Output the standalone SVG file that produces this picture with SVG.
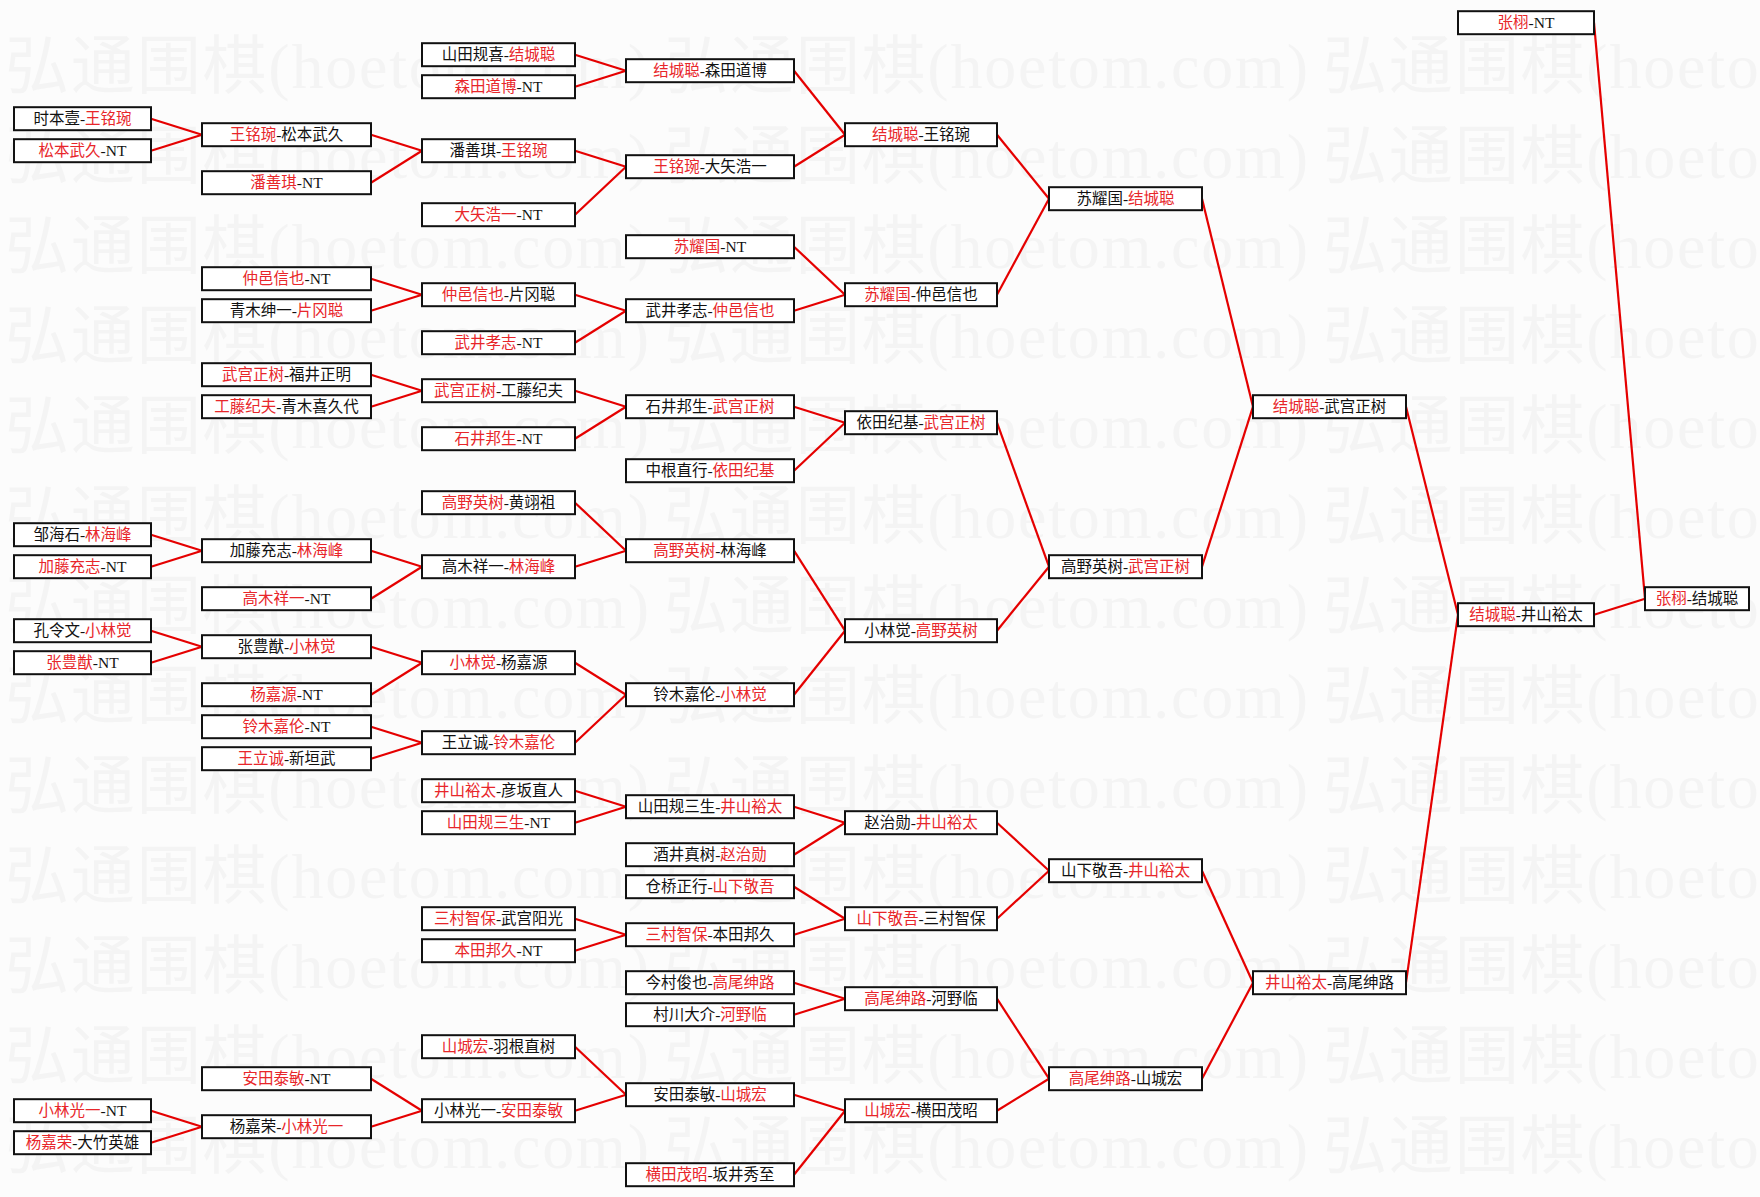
<svg xmlns="http://www.w3.org/2000/svg" width="1760" height="1197" viewBox="0 0 1760 1197">
<style>
.bg{fill:#fcfcfc}
.wm{font-family:"Liberation Serif","Noto Sans CJK SC",serif;font-size:64px;fill:#f4f4f4}
.node rect{fill:#ffffff;stroke:#111111;stroke-width:2}
.node text{font-family:"Liberation Serif","Noto Sans CJK SC",serif;font-size:15.5px;fill:#111111;text-anchor:middle}
.r{fill:#e8262a}
#connectors line{stroke:#e50000;stroke-width:2.2;fill:none}
</style>
<rect class="bg" x="0" y="0" width="1760" height="1197"/>
<g id="watermark">
<text class="wm" x="5" y="88" textLength="644" lengthAdjust="spacing">弘通围棋(hoetom.com)</text>
<text class="wm" x="664" y="88" textLength="644" lengthAdjust="spacing">弘通围棋(hoetom.com)</text>
<text class="wm" x="1323" y="88" textLength="644" lengthAdjust="spacing">弘通围棋(hoetom.com)</text>
<text class="wm" x="5" y="178" textLength="644" lengthAdjust="spacing">弘通围棋(hoetom.com)</text>
<text class="wm" x="664" y="178" textLength="644" lengthAdjust="spacing">弘通围棋(hoetom.com)</text>
<text class="wm" x="1323" y="178" textLength="644" lengthAdjust="spacing">弘通围棋(hoetom.com)</text>
<text class="wm" x="5" y="268" textLength="644" lengthAdjust="spacing">弘通围棋(hoetom.com)</text>
<text class="wm" x="664" y="268" textLength="644" lengthAdjust="spacing">弘通围棋(hoetom.com)</text>
<text class="wm" x="1323" y="268" textLength="644" lengthAdjust="spacing">弘通围棋(hoetom.com)</text>
<text class="wm" x="5" y="358" textLength="644" lengthAdjust="spacing">弘通围棋(hoetom.com)</text>
<text class="wm" x="664" y="358" textLength="644" lengthAdjust="spacing">弘通围棋(hoetom.com)</text>
<text class="wm" x="1323" y="358" textLength="644" lengthAdjust="spacing">弘通围棋(hoetom.com)</text>
<text class="wm" x="5" y="448" textLength="644" lengthAdjust="spacing">弘通围棋(hoetom.com)</text>
<text class="wm" x="664" y="448" textLength="644" lengthAdjust="spacing">弘通围棋(hoetom.com)</text>
<text class="wm" x="1323" y="448" textLength="644" lengthAdjust="spacing">弘通围棋(hoetom.com)</text>
<text class="wm" x="5" y="538" textLength="644" lengthAdjust="spacing">弘通围棋(hoetom.com)</text>
<text class="wm" x="664" y="538" textLength="644" lengthAdjust="spacing">弘通围棋(hoetom.com)</text>
<text class="wm" x="1323" y="538" textLength="644" lengthAdjust="spacing">弘通围棋(hoetom.com)</text>
<text class="wm" x="5" y="628" textLength="644" lengthAdjust="spacing">弘通围棋(hoetom.com)</text>
<text class="wm" x="664" y="628" textLength="644" lengthAdjust="spacing">弘通围棋(hoetom.com)</text>
<text class="wm" x="1323" y="628" textLength="644" lengthAdjust="spacing">弘通围棋(hoetom.com)</text>
<text class="wm" x="5" y="718" textLength="644" lengthAdjust="spacing">弘通围棋(hoetom.com)</text>
<text class="wm" x="664" y="718" textLength="644" lengthAdjust="spacing">弘通围棋(hoetom.com)</text>
<text class="wm" x="1323" y="718" textLength="644" lengthAdjust="spacing">弘通围棋(hoetom.com)</text>
<text class="wm" x="5" y="808" textLength="644" lengthAdjust="spacing">弘通围棋(hoetom.com)</text>
<text class="wm" x="664" y="808" textLength="644" lengthAdjust="spacing">弘通围棋(hoetom.com)</text>
<text class="wm" x="1323" y="808" textLength="644" lengthAdjust="spacing">弘通围棋(hoetom.com)</text>
<text class="wm" x="5" y="898" textLength="644" lengthAdjust="spacing">弘通围棋(hoetom.com)</text>
<text class="wm" x="664" y="898" textLength="644" lengthAdjust="spacing">弘通围棋(hoetom.com)</text>
<text class="wm" x="1323" y="898" textLength="644" lengthAdjust="spacing">弘通围棋(hoetom.com)</text>
<text class="wm" x="5" y="988" textLength="644" lengthAdjust="spacing">弘通围棋(hoetom.com)</text>
<text class="wm" x="664" y="988" textLength="644" lengthAdjust="spacing">弘通围棋(hoetom.com)</text>
<text class="wm" x="1323" y="988" textLength="644" lengthAdjust="spacing">弘通围棋(hoetom.com)</text>
<text class="wm" x="5" y="1078" textLength="644" lengthAdjust="spacing">弘通围棋(hoetom.com)</text>
<text class="wm" x="664" y="1078" textLength="644" lengthAdjust="spacing">弘通围棋(hoetom.com)</text>
<text class="wm" x="1323" y="1078" textLength="644" lengthAdjust="spacing">弘通围棋(hoetom.com)</text>
<text class="wm" x="5" y="1168" textLength="644" lengthAdjust="spacing">弘通围棋(hoetom.com)</text>
<text class="wm" x="664" y="1168" textLength="644" lengthAdjust="spacing">弘通围棋(hoetom.com)</text>
<text class="wm" x="1323" y="1168" textLength="644" lengthAdjust="spacing">弘通围棋(hoetom.com)</text>
</g>
<g id="connectors">
<line x1="151" y1="118.7" x2="202" y2="134.7"/><line x1="151" y1="150.7" x2="202" y2="134.7"/>
<line x1="151" y1="534.7" x2="202" y2="550.7"/><line x1="151" y1="566.7" x2="202" y2="550.7"/>
<line x1="151" y1="630.7" x2="202" y2="646.7"/><line x1="151" y1="662.7" x2="202" y2="646.7"/>
<line x1="151" y1="1110.7" x2="202" y2="1126.7"/><line x1="151" y1="1142.7" x2="202" y2="1126.7"/>
<line x1="371" y1="134.7" x2="422" y2="150.7"/><line x1="371" y1="182.7" x2="422" y2="150.7"/>
<line x1="371" y1="278.7" x2="422" y2="294.7"/><line x1="371" y1="310.7" x2="422" y2="294.7"/>
<line x1="371" y1="374.7" x2="422" y2="390.7"/><line x1="371" y1="406.7" x2="422" y2="390.7"/>
<line x1="371" y1="550.7" x2="422" y2="566.7"/><line x1="371" y1="598.7" x2="422" y2="566.7"/>
<line x1="371" y1="646.7" x2="422" y2="662.7"/><line x1="371" y1="694.7" x2="422" y2="662.7"/>
<line x1="371" y1="726.7" x2="422" y2="742.7"/><line x1="371" y1="758.7" x2="422" y2="742.7"/>
<line x1="371" y1="1078.7" x2="422" y2="1110.7"/><line x1="371" y1="1126.7" x2="422" y2="1110.7"/>
<line x1="575" y1="54.7" x2="626" y2="70.7"/><line x1="575" y1="86.7" x2="626" y2="70.7"/>
<line x1="575" y1="150.7" x2="626" y2="166.7"/><line x1="575" y1="214.7" x2="626" y2="166.7"/>
<line x1="575" y1="294.7" x2="626" y2="310.7"/><line x1="575" y1="342.7" x2="626" y2="310.7"/>
<line x1="575" y1="390.7" x2="626" y2="406.7"/><line x1="575" y1="438.7" x2="626" y2="406.7"/>
<line x1="575" y1="502.7" x2="626" y2="550.7"/><line x1="575" y1="566.7" x2="626" y2="550.7"/>
<line x1="575" y1="662.7" x2="626" y2="694.7"/><line x1="575" y1="742.7" x2="626" y2="694.7"/>
<line x1="575" y1="790.7" x2="626" y2="806.7"/><line x1="575" y1="822.7" x2="626" y2="806.7"/>
<line x1="575" y1="918.7" x2="626" y2="934.7"/><line x1="575" y1="950.7" x2="626" y2="934.7"/>
<line x1="575" y1="1046.7" x2="626" y2="1094.7"/><line x1="575" y1="1110.7" x2="626" y2="1094.7"/>
<line x1="794" y1="70.7" x2="845" y2="134.7"/><line x1="794" y1="166.7" x2="845" y2="134.7"/>
<line x1="794" y1="246.7" x2="845" y2="294.7"/><line x1="794" y1="310.7" x2="845" y2="294.7"/>
<line x1="794" y1="406.7" x2="845" y2="422.7"/><line x1="794" y1="470.7" x2="845" y2="422.7"/>
<line x1="794" y1="550.7" x2="845" y2="630.7"/><line x1="794" y1="694.7" x2="845" y2="630.7"/>
<line x1="794" y1="806.7" x2="845" y2="822.7"/><line x1="794" y1="854.7" x2="845" y2="822.7"/>
<line x1="794" y1="886.7" x2="845" y2="918.7"/><line x1="794" y1="934.7" x2="845" y2="918.7"/>
<line x1="794" y1="982.7" x2="845" y2="998.7"/><line x1="794" y1="1014.7" x2="845" y2="998.7"/>
<line x1="794" y1="1094.7" x2="845" y2="1110.7"/><line x1="794" y1="1174.7" x2="845" y2="1110.7"/>
<line x1="997" y1="134.7" x2="1049" y2="198.7"/><line x1="997" y1="294.7" x2="1049" y2="198.7"/>
<line x1="997" y1="422.7" x2="1049" y2="566.7"/><line x1="997" y1="630.7" x2="1049" y2="566.7"/>
<line x1="997" y1="822.7" x2="1049" y2="870.7"/><line x1="997" y1="918.7" x2="1049" y2="870.7"/>
<line x1="997" y1="998.7" x2="1049" y2="1078.7"/><line x1="997" y1="1110.7" x2="1049" y2="1078.7"/>
<line x1="1202" y1="198.7" x2="1253" y2="406.7"/><line x1="1202" y1="566.7" x2="1253" y2="406.7"/>
<line x1="1202" y1="870.7" x2="1253" y2="982.7"/><line x1="1202" y1="1078.7" x2="1253" y2="982.7"/>
<line x1="1406" y1="406.7" x2="1458" y2="614.7"/><line x1="1406" y1="982.7" x2="1458" y2="614.7"/>
<line x1="1594" y1="22.7" x2="1645" y2="598.7"/><line x1="1594" y1="614.7" x2="1645" y2="598.7"/>
</g>
<g id="n0a" class="node" transform="translate(14,118.7)"><rect x="0" y="-11.5" width="137" height="23"/><text x="68.5" y="5.5">时本壹-<tspan class="r">王铭琬</tspan></text></g>
<g id="n0b" class="node" transform="translate(14,150.7)"><rect x="0" y="-11.5" width="137" height="23"/><text x="68.5" y="5.5"><tspan class="r">松本武久</tspan>-NT</text></g>
<g id="n0c" class="node" transform="translate(14,534.7)"><rect x="0" y="-11.5" width="137" height="23"/><text x="68.5" y="5.5">邹海石-<tspan class="r">林海峰</tspan></text></g>
<g id="n0d" class="node" transform="translate(14,566.7)"><rect x="0" y="-11.5" width="137" height="23"/><text x="68.5" y="5.5"><tspan class="r">加藤充志</tspan>-NT</text></g>
<g id="n0e" class="node" transform="translate(14,630.7)"><rect x="0" y="-11.5" width="137" height="23"/><text x="68.5" y="5.5">孔令文-<tspan class="r">小林觉</tspan></text></g>
<g id="n0f" class="node" transform="translate(14,662.7)"><rect x="0" y="-11.5" width="137" height="23"/><text x="68.5" y="5.5"><tspan class="r">张豊猷</tspan>-NT</text></g>
<g id="n0g" class="node" transform="translate(14,1110.7)"><rect x="0" y="-11.5" width="137" height="23"/><text x="68.5" y="5.5"><tspan class="r">小林光一</tspan>-NT</text></g>
<g id="n0h" class="node" transform="translate(14,1142.7)"><rect x="0" y="-11.5" width="137" height="23"/><text x="68.5" y="5.5"><tspan class="r">杨嘉荣</tspan>-大竹英雄</text></g>
<g id="n1a" class="node" transform="translate(202,134.7)"><rect x="0" y="-11.5" width="169" height="23"/><text x="84.5" y="5.5"><tspan class="r">王铭琬</tspan>-松本武久</text></g>
<g id="n1b" class="node" transform="translate(202,182.7)"><rect x="0" y="-11.5" width="169" height="23"/><text x="84.5" y="5.5"><tspan class="r">潘善琪</tspan>-NT</text></g>
<g id="n1c" class="node" transform="translate(202,278.7)"><rect x="0" y="-11.5" width="169" height="23"/><text x="84.5" y="5.5"><tspan class="r">仲邑信也</tspan>-NT</text></g>
<g id="n1d" class="node" transform="translate(202,310.7)"><rect x="0" y="-11.5" width="169" height="23"/><text x="84.5" y="5.5">青木绅一-<tspan class="r">片冈聪</tspan></text></g>
<g id="n1e" class="node" transform="translate(202,374.7)"><rect x="0" y="-11.5" width="169" height="23"/><text x="84.5" y="5.5"><tspan class="r">武宫正树</tspan>-福井正明</text></g>
<g id="n1f" class="node" transform="translate(202,406.7)"><rect x="0" y="-11.5" width="169" height="23"/><text x="84.5" y="5.5"><tspan class="r">工藤纪夫</tspan>-青木喜久代</text></g>
<g id="n1g" class="node" transform="translate(202,550.7)"><rect x="0" y="-11.5" width="169" height="23"/><text x="84.5" y="5.5">加藤充志-<tspan class="r">林海峰</tspan></text></g>
<g id="n1h" class="node" transform="translate(202,598.7)"><rect x="0" y="-11.5" width="169" height="23"/><text x="84.5" y="5.5"><tspan class="r">高木祥一</tspan>-NT</text></g>
<g id="n1i" class="node" transform="translate(202,646.7)"><rect x="0" y="-11.5" width="169" height="23"/><text x="84.5" y="5.5">张豊猷-<tspan class="r">小林觉</tspan></text></g>
<g id="n1j" class="node" transform="translate(202,694.7)"><rect x="0" y="-11.5" width="169" height="23"/><text x="84.5" y="5.5"><tspan class="r">杨嘉源</tspan>-NT</text></g>
<g id="n1k" class="node" transform="translate(202,726.7)"><rect x="0" y="-11.5" width="169" height="23"/><text x="84.5" y="5.5"><tspan class="r">铃木嘉伦</tspan>-NT</text></g>
<g id="n1l" class="node" transform="translate(202,758.7)"><rect x="0" y="-11.5" width="169" height="23"/><text x="84.5" y="5.5"><tspan class="r">王立诚</tspan>-新垣武</text></g>
<g id="n1m" class="node" transform="translate(202,1078.7)"><rect x="0" y="-11.5" width="169" height="23"/><text x="84.5" y="5.5"><tspan class="r">安田泰敏</tspan>-NT</text></g>
<g id="n1n" class="node" transform="translate(202,1126.7)"><rect x="0" y="-11.5" width="169" height="23"/><text x="84.5" y="5.5">杨嘉荣-<tspan class="r">小林光一</tspan></text></g>
<g id="n2a" class="node" transform="translate(422,54.7)"><rect x="0" y="-11.5" width="153" height="23"/><text x="76.5" y="5.5">山田规喜-<tspan class="r">结城聪</tspan></text></g>
<g id="n2b" class="node" transform="translate(422,86.7)"><rect x="0" y="-11.5" width="153" height="23"/><text x="76.5" y="5.5"><tspan class="r">森田道博</tspan>-NT</text></g>
<g id="n2c" class="node" transform="translate(422,150.7)"><rect x="0" y="-11.5" width="153" height="23"/><text x="76.5" y="5.5">潘善琪-<tspan class="r">王铭琬</tspan></text></g>
<g id="n2d" class="node" transform="translate(422,214.7)"><rect x="0" y="-11.5" width="153" height="23"/><text x="76.5" y="5.5"><tspan class="r">大矢浩一</tspan>-NT</text></g>
<g id="n2e" class="node" transform="translate(422,294.7)"><rect x="0" y="-11.5" width="153" height="23"/><text x="76.5" y="5.5"><tspan class="r">仲邑信也</tspan>-片冈聪</text></g>
<g id="n2f" class="node" transform="translate(422,342.7)"><rect x="0" y="-11.5" width="153" height="23"/><text x="76.5" y="5.5"><tspan class="r">武井孝志</tspan>-NT</text></g>
<g id="n2g" class="node" transform="translate(422,390.7)"><rect x="0" y="-11.5" width="153" height="23"/><text x="76.5" y="5.5"><tspan class="r">武宫正树</tspan>-工藤纪夫</text></g>
<g id="n2h" class="node" transform="translate(422,438.7)"><rect x="0" y="-11.5" width="153" height="23"/><text x="76.5" y="5.5"><tspan class="r">石井邦生</tspan>-NT</text></g>
<g id="n2i" class="node" transform="translate(422,502.7)"><rect x="0" y="-11.5" width="153" height="23"/><text x="76.5" y="5.5"><tspan class="r">高野英树</tspan>-黄翊祖</text></g>
<g id="n2j" class="node" transform="translate(422,566.7)"><rect x="0" y="-11.5" width="153" height="23"/><text x="76.5" y="5.5">高木祥一-<tspan class="r">林海峰</tspan></text></g>
<g id="n2k" class="node" transform="translate(422,662.7)"><rect x="0" y="-11.5" width="153" height="23"/><text x="76.5" y="5.5"><tspan class="r">小林觉</tspan>-杨嘉源</text></g>
<g id="n2l" class="node" transform="translate(422,742.7)"><rect x="0" y="-11.5" width="153" height="23"/><text x="76.5" y="5.5">王立诚-<tspan class="r">铃木嘉伦</tspan></text></g>
<g id="n2m" class="node" transform="translate(422,790.7)"><rect x="0" y="-11.5" width="153" height="23"/><text x="76.5" y="5.5"><tspan class="r">井山裕太</tspan>-彦坂直人</text></g>
<g id="n2n" class="node" transform="translate(422,822.7)"><rect x="0" y="-11.5" width="153" height="23"/><text x="76.5" y="5.5"><tspan class="r">山田规三生</tspan>-NT</text></g>
<g id="n2o" class="node" transform="translate(422,918.7)"><rect x="0" y="-11.5" width="153" height="23"/><text x="76.5" y="5.5"><tspan class="r">三村智保</tspan>-武宫阳光</text></g>
<g id="n2p" class="node" transform="translate(422,950.7)"><rect x="0" y="-11.5" width="153" height="23"/><text x="76.5" y="5.5"><tspan class="r">本田邦久</tspan>-NT</text></g>
<g id="n2q" class="node" transform="translate(422,1046.7)"><rect x="0" y="-11.5" width="153" height="23"/><text x="76.5" y="5.5"><tspan class="r">山城宏</tspan>-羽根直树</text></g>
<g id="n2r" class="node" transform="translate(422,1110.7)"><rect x="0" y="-11.5" width="153" height="23"/><text x="76.5" y="5.5">小林光一-<tspan class="r">安田泰敏</tspan></text></g>
<g id="n3a" class="node" transform="translate(626,70.7)"><rect x="0" y="-11.5" width="168" height="23"/><text x="84" y="5.5"><tspan class="r">结城聪</tspan>-森田道博</text></g>
<g id="n3b" class="node" transform="translate(626,166.7)"><rect x="0" y="-11.5" width="168" height="23"/><text x="84" y="5.5"><tspan class="r">王铭琬</tspan>-大矢浩一</text></g>
<g id="n3c" class="node" transform="translate(626,246.7)"><rect x="0" y="-11.5" width="168" height="23"/><text x="84" y="5.5"><tspan class="r">苏耀国</tspan>-NT</text></g>
<g id="n3d" class="node" transform="translate(626,310.7)"><rect x="0" y="-11.5" width="168" height="23"/><text x="84" y="5.5">武井孝志-<tspan class="r">仲邑信也</tspan></text></g>
<g id="n3e" class="node" transform="translate(626,406.7)"><rect x="0" y="-11.5" width="168" height="23"/><text x="84" y="5.5">石井邦生-<tspan class="r">武宫正树</tspan></text></g>
<g id="n3f" class="node" transform="translate(626,470.7)"><rect x="0" y="-11.5" width="168" height="23"/><text x="84" y="5.5">中根直行-<tspan class="r">依田纪基</tspan></text></g>
<g id="n3g" class="node" transform="translate(626,550.7)"><rect x="0" y="-11.5" width="168" height="23"/><text x="84" y="5.5"><tspan class="r">高野英树</tspan>-林海峰</text></g>
<g id="n3h" class="node" transform="translate(626,694.7)"><rect x="0" y="-11.5" width="168" height="23"/><text x="84" y="5.5">铃木嘉伦-<tspan class="r">小林觉</tspan></text></g>
<g id="n3i" class="node" transform="translate(626,806.7)"><rect x="0" y="-11.5" width="168" height="23"/><text x="84" y="5.5">山田规三生-<tspan class="r">井山裕太</tspan></text></g>
<g id="n3j" class="node" transform="translate(626,854.7)"><rect x="0" y="-11.5" width="168" height="23"/><text x="84" y="5.5">酒井真树-<tspan class="r">赵治勋</tspan></text></g>
<g id="n3k" class="node" transform="translate(626,886.7)"><rect x="0" y="-11.5" width="168" height="23"/><text x="84" y="5.5">仓桥正行-<tspan class="r">山下敬吾</tspan></text></g>
<g id="n3l" class="node" transform="translate(626,934.7)"><rect x="0" y="-11.5" width="168" height="23"/><text x="84" y="5.5"><tspan class="r">三村智保</tspan>-本田邦久</text></g>
<g id="n3m" class="node" transform="translate(626,982.7)"><rect x="0" y="-11.5" width="168" height="23"/><text x="84" y="5.5">今村俊也-<tspan class="r">高尾绅路</tspan></text></g>
<g id="n3n" class="node" transform="translate(626,1014.7)"><rect x="0" y="-11.5" width="168" height="23"/><text x="84" y="5.5">村川大介-<tspan class="r">河野临</tspan></text></g>
<g id="n3o" class="node" transform="translate(626,1094.7)"><rect x="0" y="-11.5" width="168" height="23"/><text x="84" y="5.5">安田泰敏-<tspan class="r">山城宏</tspan></text></g>
<g id="n3p" class="node" transform="translate(626,1174.7)"><rect x="0" y="-11.5" width="168" height="23"/><text x="84" y="5.5"><tspan class="r">横田茂昭</tspan>-坂井秀至</text></g>
<g id="n4a" class="node" transform="translate(845,134.7)"><rect x="0" y="-11.5" width="152" height="23"/><text x="76" y="5.5"><tspan class="r">结城聪</tspan>-王铭琬</text></g>
<g id="n4b" class="node" transform="translate(845,294.7)"><rect x="0" y="-11.5" width="152" height="23"/><text x="76" y="5.5"><tspan class="r">苏耀国</tspan>-仲邑信也</text></g>
<g id="n4c" class="node" transform="translate(845,422.7)"><rect x="0" y="-11.5" width="152" height="23"/><text x="76" y="5.5">依田纪基-<tspan class="r">武宫正树</tspan></text></g>
<g id="n4d" class="node" transform="translate(845,630.7)"><rect x="0" y="-11.5" width="152" height="23"/><text x="76" y="5.5">小林觉-<tspan class="r">高野英树</tspan></text></g>
<g id="n4e" class="node" transform="translate(845,822.7)"><rect x="0" y="-11.5" width="152" height="23"/><text x="76" y="5.5">赵治勋-<tspan class="r">井山裕太</tspan></text></g>
<g id="n4f" class="node" transform="translate(845,918.7)"><rect x="0" y="-11.5" width="152" height="23"/><text x="76" y="5.5"><tspan class="r">山下敬吾</tspan>-三村智保</text></g>
<g id="n4g" class="node" transform="translate(845,998.7)"><rect x="0" y="-11.5" width="152" height="23"/><text x="76" y="5.5"><tspan class="r">高尾绅路</tspan>-河野临</text></g>
<g id="n4h" class="node" transform="translate(845,1110.7)"><rect x="0" y="-11.5" width="152" height="23"/><text x="76" y="5.5"><tspan class="r">山城宏</tspan>-横田茂昭</text></g>
<g id="n5a" class="node" transform="translate(1049,198.7)"><rect x="0" y="-11.5" width="153" height="23"/><text x="76.5" y="5.5">苏耀国-<tspan class="r">结城聪</tspan></text></g>
<g id="n5b" class="node" transform="translate(1049,566.7)"><rect x="0" y="-11.5" width="153" height="23"/><text x="76.5" y="5.5">高野英树-<tspan class="r">武宫正树</tspan></text></g>
<g id="n5c" class="node" transform="translate(1049,870.7)"><rect x="0" y="-11.5" width="153" height="23"/><text x="76.5" y="5.5">山下敬吾-<tspan class="r">井山裕太</tspan></text></g>
<g id="n5d" class="node" transform="translate(1049,1078.7)"><rect x="0" y="-11.5" width="153" height="23"/><text x="76.5" y="5.5"><tspan class="r">高尾绅路</tspan>-山城宏</text></g>
<g id="n6a" class="node" transform="translate(1253,406.7)"><rect x="0" y="-11.5" width="153" height="23"/><text x="76.5" y="5.5"><tspan class="r">结城聪</tspan>-武宫正树</text></g>
<g id="n6b" class="node" transform="translate(1253,982.7)"><rect x="0" y="-11.5" width="153" height="23"/><text x="76.5" y="5.5"><tspan class="r">井山裕太</tspan>-高尾绅路</text></g>
<g id="n7a" class="node" transform="translate(1458,22.7)"><rect x="0" y="-11.5" width="136" height="23"/><text x="68" y="5.5"><tspan class="r">张栩</tspan>-NT</text></g>
<g id="n7b" class="node" transform="translate(1458,614.7)"><rect x="0" y="-11.5" width="136" height="23"/><text x="68" y="5.5"><tspan class="r">结城聪</tspan>-井山裕太</text></g>
<g id="n8a" class="node" transform="translate(1645,598.7)"><rect x="0" y="-11.5" width="104" height="23"/><text x="52" y="5.5"><tspan class="r">张栩</tspan>-结城聪</text></g>
</svg>
